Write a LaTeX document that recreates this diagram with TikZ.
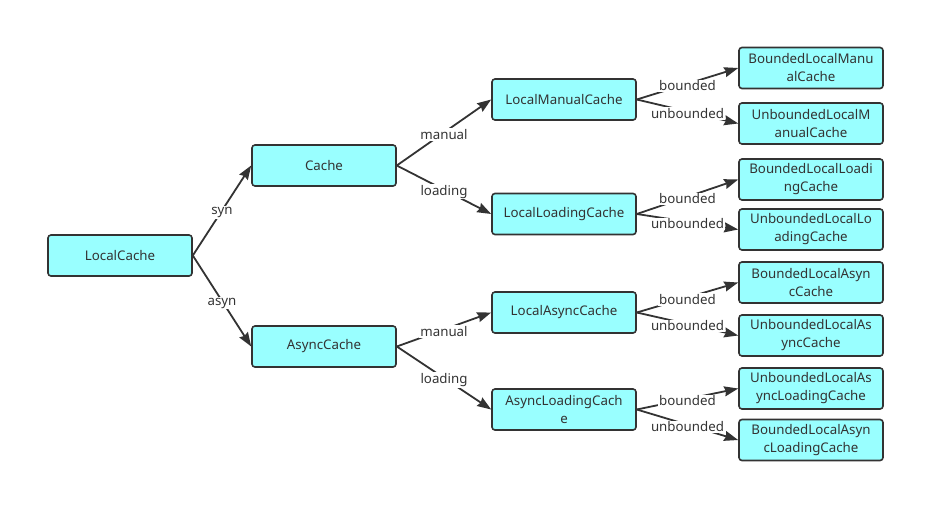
\documentclass[tikz,border=0pt]{standalone}
\usepackage{fontspec}
\setmainfont{Noto Sans}
\usetikzlibrary{arrows.meta}
\definecolor{boxfill}{HTML}{99FFFF}
\definecolor{ink}{HTML}{333333}
\begin{document}
\begin{tikzpicture}[x=1pt,y=-1pt,
  box/.style={draw=ink, line width=1.6pt, fill=boxfill, rounded corners=3pt,
    minimum width=144pt, minimum height=41pt, inner sep=0pt, align=center,
    font=\fontsize{13.3}{18}\selectfont, text=ink},
  conn/.style={draw=ink, line width=1.8pt, -{Stealth[length=14pt,width=10pt,inset=1.5pt]}},
  lbl/.style={fill=white, inner sep=1pt, yshift=-2pt, font=\fontsize{13.3}{15}\selectfont, text=ink}]
\useasboundingbox (0,0) rectangle (945,523);

\node[box] (lc)  at (120,255.5) {LocalCache};
\node[box] (c)   at (324,165.5) {Cache};
\node[box] (ac)  at (324,346.5) {AsyncCache};
\node[box] (lmc) at (564,99.5)  {LocalManualCache};
\node[box] (llc) at (564,214)   {LocalLoadingCache};
\node[box] (lac) at (564,312.5) {LocalAsyncCache};
\node[box] (alc) at (564,409.5) {AsyncLoadingCach\\e};

\node[box] (r1) at (811,68)    {BoundedLocalManu\\alCache};
\node[box] (r2) at (811,123.5) {UnboundedLocalM\\anualCache};
\node[box] (r3) at (811,179.5) {BoundedLocalLoadi\\ngCache};
\node[box] (r4) at (811,229.5) {UnboundedLocalLo\\adingCache};
\node[box] (r5) at (811,282.5) {BoundedLocalAsyn\\cCache};
\node[box] (r6) at (811,335.5) {UnboundedLocalAs\\yncCache};
\node[box] (r7) at (811,388.5) {UnboundedLocalAs\\yncLoadingCache};
\node[box] (r8) at (811,440)   {BoundedLocalAsyn\\cLoadingCache};

\draw[conn] (lc.east) -- node[lbl] {syn} (c.west);
\draw[conn] (lc.east) -- node[lbl] {asyn} (ac.west);
\draw[conn] (c.east) -- node[lbl] {manual} (lmc.west);
\draw[conn] (c.east) -- node[lbl] {loading} (llc.west);
\draw[conn] (ac.east) -- node[lbl] {manual} (lac.west);
\draw[conn] (ac.east) -- node[lbl] {loading} (alc.west);

\draw[conn] (lmc.east) -- node[lbl] {bounded} (r1.west);
\draw[conn] (lmc.east) -- node[lbl] {unbounded} (r2.west);
\draw[conn] (llc.east) -- node[lbl] {bounded} (r3.west);
\draw[conn] (llc.east) -- node[lbl] {unbounded} (r4.west);
\draw[conn] (lac.east) -- node[lbl] {bounded} (r5.west);
\draw[conn] (lac.east) -- node[lbl] {unbounded} (r6.west);
\draw[conn] (alc.east) -- node[lbl] {bounded} (r7.west);
\draw[conn] (alc.east) -- node[lbl] {unbounded} (r8.west);
\end{tikzpicture}
\end{document}
